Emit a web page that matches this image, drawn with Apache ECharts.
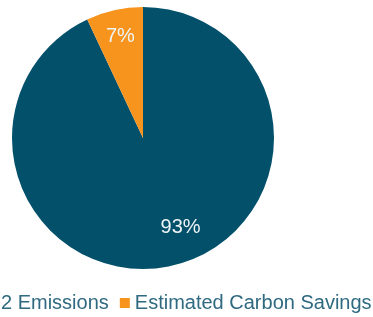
<!DOCTYPE html>
<html>
<head>
<meta charset="utf-8">
<script src="https://cdn.jsdelivr.net/npm/echarts@6/dist/echarts.min.js"></script>
<style>
  html, body { margin: 0; padding: 0; background: #fff; }
  #main { width: 373px; height: 317px; }
</style>
</head>
<body>
<div id="main"></div>
<script>
var chartDom = document.getElementById('main');
var myChart = echarts.init(chartDom);

// data
var names = ['CO2 Emissions', 'Estimated Carbon Savings'];
var values = [93, 7];
var colors = ['#03506b', '#f7941d'];

var data = [];
for (let i = 0; i < names.length; i++) {
  data.push({ name: names[i], value: values[i], itemStyle: { color: colors[i] } });
}

var option = {
  animation: false,
  legend: {
    data: names,
    left: -44,
    top: 293,
    width: 600,
    padding: 0,
    icon: 'rect',
    itemWidth: 10,
    itemHeight: 10,
    itemGap: 11,
    textStyle: {
      color: '#2f6a80',
      fontSize: 20,
      fontFamily: 'Liberation Sans, Arial, sans-serif'
    }
  },
  series: [
    {
      name: 'pie',
      type: 'pie',
      center: [143, 138],
      radius: [0, 131],
      startAngle: 90,
      clockwise: true,
      label: { show: false },
      labelLine: { show: false },
      data: data
    },
    {
      // transparent ring only used to place the percentage labels
      name: 'labels',
      type: 'pie',
      silent: true,
      center: [143, 138],
      radius: [70, 131],
      startAngle: 90,
      clockwise: true,
      itemStyle: { color: 'rgba(0,0,0,0)' },
      label: {
        show: true,
        position: 'inside',
        formatter: '{c}%',
        color: '#eef3f5',
        fontSize: 20,
        fontFamily: 'Liberation Sans, Arial, sans-serif'
      },
      labelLine: { show: false },
      labelLayout: function (params) {
        // nudge the big slice label up/right like the original
        if (params.dataIndex === 0) return { dx: 15, dy: -12 };
        return { dy: -1 };
      },
      data: values.map(function (v, i) { return { name: names[i], value: v }; })
    }
  ]
};

option && myChart.setOption(option);
</script>
</body>
</html>
